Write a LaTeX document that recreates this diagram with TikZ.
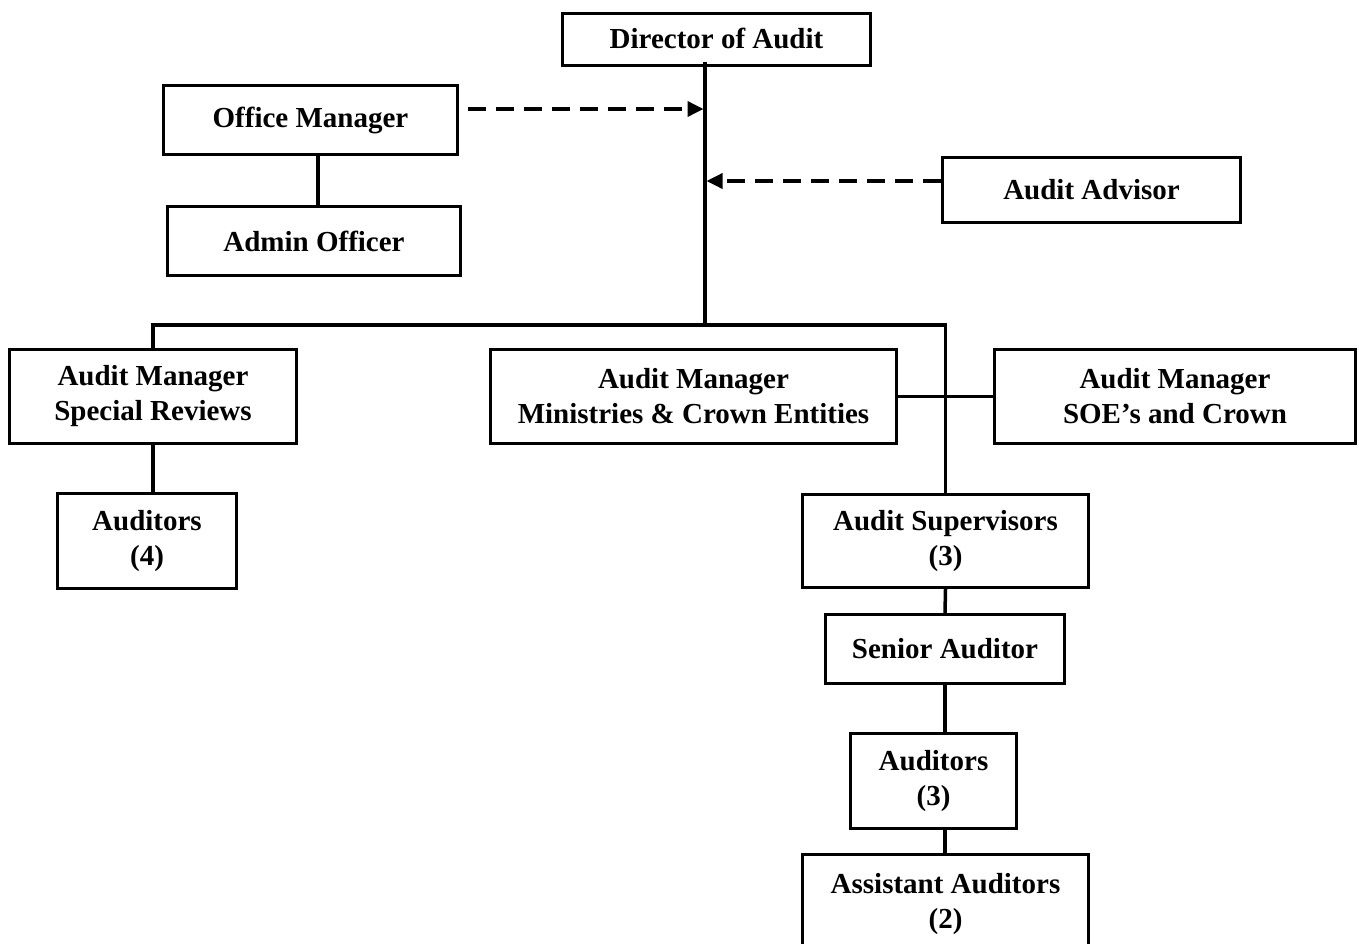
\documentclass[tikz,border=0pt]{standalone}
\usepackage{fontspec}
\setmainfont{Liberation Serif}
\usetikzlibrary{arrows.meta}
\begin{document}
\begin{tikzpicture}[x=1pt,y=-1pt,
  box/.style={draw, line width=3.3pt, inner sep=0pt, align=center,
    font=\fontsize{29}{35}\selectfont\bfseries},
  conn/.style={line width=3.5pt},
  dasharrow/.style={line width=3.5pt, dash pattern=on 18pt off 10pt,
    -{Triangle[length=16pt,width=15pt]}}]
\useasboundingbox (0,0) rectangle (1359,943);
\clip (0,0) rectangle (1359,943);
% boxes
\node[box, minimum width=308pt, minimum height=52pt, text depth=2pt] (dir) at (716.5,39.5) {Director of Audit};
\node[box, minimum width=294pt, minimum height=69pt] (office) at (310.5,120) {Office Manager};
\node[box, minimum width=293pt, minimum height=69pt] (admin) at (314,241) {Admin Officer};
\node[box, minimum width=298pt, minimum height=65pt] (advisor) at (1091.5,190) {Audit Advisor};
\node[box, minimum width=287pt, minimum height=94pt] (special) at (153,396.5) {Audit Manager\\Special Reviews};
\node[box, minimum width=179pt, minimum height=95pt] (aud4) at (147,541) {Auditors\\(4)};
\node[box, minimum width=406pt, minimum height=94pt] (minis) at (693.5,396.5) {Audit Manager\\Ministries \& Crown Entities};
\node[box, minimum width=361pt, minimum height=94pt] (soe) at (1175,396.5) {Audit Manager\\SOE’s and Crown};
\node[box, minimum width=286pt, minimum height=93pt] (sup) at (945.5,541) {Audit Supervisors\\(3)};
\node[box, minimum width=239pt, minimum height=69pt] (senior) at (945,649) {Senior Auditor};
\node[box, minimum width=166pt, minimum height=95pt] (aud3) at (933.5,781) {Auditors\\(3)};
\node[box, minimum width=286pt, minimum height=99pt] (asst) at (945.5,904) {Assistant Auditors\\(2)};
% coordinates
\coordinate (t0) at (705,62);
\coordinate (bar) at (705,325);
\coordinate (a1) at (703.5,109);
\coordinate (a2) at (706.5,181);
% trunk and bar
\draw[conn] (t0) -- (bar);
\draw[conn] (special.north) -- (special.north |- bar) -- (sup.north |- bar) -- (sup.north);
% office - admin
\draw[conn] (office.south -| 318,0) -- (admin.north -| 318,0);
% special - auditors(4)
\draw[conn] (special.south) -- (special.south |- aud4.north);
% ministries - soe
\draw[conn] (minis.east) -- (soe.west);
% right column
\draw[conn] (sup.south) -- (senior.north);
\draw[conn] (senior.south) -- (senior.south |- aud3.north);
\draw[conn] (aud3.south -| senior.south) -- (asst.north -| senior.south);
% dashed arrows
\path (office.east |- a1) ++(8.5,0) coordinate (a1s);
\draw[dasharrow] (a1s) -- (a1);
\draw[dasharrow] (advisor.west |- a2) -- (a2);
\end{tikzpicture}
\end{document}
